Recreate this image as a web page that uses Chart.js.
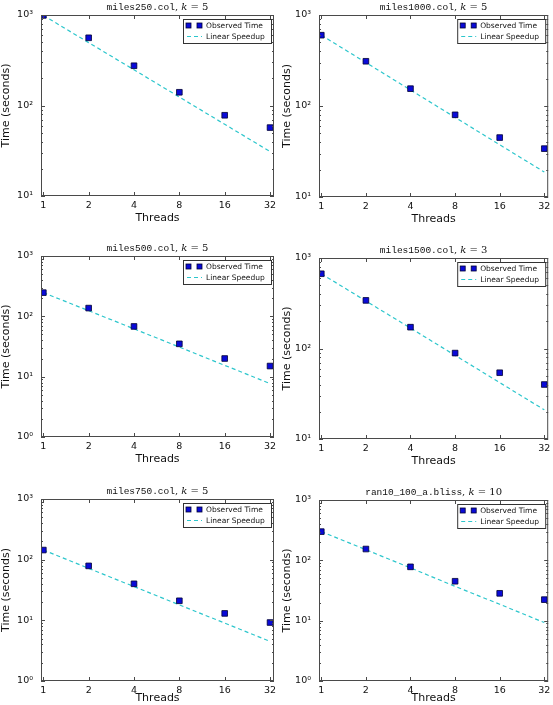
<!DOCTYPE html>
<html><head><meta charset="utf-8">
<script src="https://cdn.jsdelivr.net/npm/chart.js@4/dist/chart.umd.min.js"></script>
<style>
html,body{margin:0;padding:0;background:#fff;width:553px;height:705px;overflow:hidden}
#wrap{position:relative;width:553px;height:705px;background:#fff}
canvas{position:absolute;left:0;top:0}
</style></head><body><div id="wrap"></div>
<script>
// ---------- data ----------
const threads = [1, 2, 4, 8, 16, 32];
const xTickLabels = ['1', '2', '4', '8', '16', '32'];
const instanceNames = ['miles250.col', 'miles1000.col', 'miles500.col', 'miles1500.col', 'miles750.col', 'ran10_100_a.bliss'];
const kValues = [5, 5, 5, 3, 5, 10];
const seriesLabels = ['Observed Time', 'Linear Speedup'];
const xTitle = 'Threads';
const yTitle = 'Time (seconds)';

const observedMiles250  = [990, 560, 275, 140, 78, 57];
const observedMiles1000 = [600, 310, 155, 80, 45, 34];
const observedMiles500  = [247, 137, 68, 35, 20, 15];
const observedMiles1500 = [670, 340, 172, 89, 54, 40];
const observedMiles750  = [144, 79, 40, 21, 13, 9.2];
const observedRan10     = [299, 154, 78, 45, 28.4, 22.3];

const linearMiles250  = [990, 495, 248, 124, 62, 31];
const linearMiles1000 = [600, 300, 150, 75, 37.5, 18.8];
const linearMiles500  = [247, 124, 62, 31, 15.4, 7.7];
const linearMiles1500 = [670, 335, 168, 84, 42, 21];
const linearMiles750  = [144, 72, 36, 18, 9, 4.5];
const linearRan10     = [299, 150, 75, 37, 18.7, 9.3];

const yMinValues = [10, 10, 1, 10, 1, 1];
const yMaxValues = [1000, 1000, 1000, 1000, 1000, 1000];

const observedSeries = [observedMiles250, observedMiles1000, observedMiles500, observedMiles1500, observedMiles750, observedRan10];
const linearSeries = [linearMiles250, linearMiles1000, linearMiles500, linearMiles1500, linearMiles750, linearRan10];

// ---------- layout (plot rectangles in page pixels) ----------
const W = 553, H = 705;
const rects = [
  {l: 41, r: 274, t: 15, b: 196, col: 0},
  {l: 319, r: 551, t: 15, b: 197, col: 1},
  {l: 41, r: 274, t: 256, b: 437, col: 0},
  {l: 319, r: 551, t: 258, b: 439, col: 1},
  {l: 41, r: 274, t: 499, b: 681, col: 0},
  {l: 319, r: 551, t: 500, b: 681, col: 1}
];
const SUP = {0: '\u2070', 1: '\u00b9', 2: '\u00b2', 3: '\u00b3', 4: '\u2074'};
const CYAN = '#2cc6cc';
const FRAME = '#4a4a4a';

const decorPlugin = {
  id: 'panelDecor',
  afterDraw(chart, args, o) {
    const ctx = chart.ctx;
    const a = chart.chartArea;
    const xs = chart.scales.x, ys = chart.scales.y;
    ctx.save();
    // frame
    ctx.strokeStyle = FRAME; ctx.lineWidth = 1;
    ctx.strokeRect(a.left + 0.5, a.top + 0.5, a.right - a.left - 1, a.bottom - a.top - 1);
    // ticks
    ctx.beginPath();
    const lo = Math.round(Math.log10(ys.min)), hi = Math.round(Math.log10(ys.max));
    for (let d = lo; d <= hi; d++) {
      const yp = Math.round(ys.getPixelForValue(Math.pow(10, d))) + 0.5;
      ctx.moveTo(a.left, yp); ctx.lineTo(a.left + 4, yp);
      ctx.moveTo(a.right, yp); ctx.lineTo(a.right - 4, yp);
      if (d < hi) {
        for (let m = 2; m <= 9; m++) {
          const yy = Math.round(ys.getPixelForValue(m * Math.pow(10, d))) + 0.5;
          ctx.moveTo(a.left, yy); ctx.lineTo(a.left + 2, yy);
          ctx.moveTo(a.right, yy); ctx.lineTo(a.right - 2, yy);
        }
      }
    }
    threads.forEach(v => {
      const xp = Math.round(xs.getPixelForValue(v)) + 0.5;
      ctx.moveTo(xp, a.bottom); ctx.lineTo(xp, a.bottom - 4);
      ctx.moveTo(xp, a.top); ctx.lineTo(xp, a.top + 4);
    });
    ctx.stroke();
    // title
    const parts = [
      [o.name, '9.5px "Liberation Mono", monospace'],
      [', ', '10px "DejaVu Serif", serif'],
      ['k', 'italic 10px "DejaVu Serif", serif'],
      [' = ' + o.k, '10px "DejaVu Serif", serif']
    ];
    let tw = 0;
    parts.forEach(p => { ctx.font = p[1]; tw += ctx.measureText(p[0]).width; });
    let tx = (a.left + a.right) / 2 - tw / 2;
    const ty = a.top - 5.5;
    ctx.fillStyle = '#111'; ctx.textBaseline = 'alphabetic'; ctx.textAlign = 'left';
    parts.forEach(p => { ctx.font = p[1]; ctx.fillText(p[0], tx, ty); tx += ctx.measureText(p[0]).width; });
    // legend
    const bw = 88, bh = 24;
    const bx = a.right - 3 - bw, by = a.top + 4;
    ctx.fillStyle = '#fff';
    ctx.fillRect(bx, by, bw, bh);
    ctx.strokeStyle = '#333'; ctx.lineWidth = 1;
    ctx.strokeRect(bx + 0.5, by + 0.5, bw, bh);
    const r1 = by + 6.5, r2 = by + 17.5;
    const ds0 = chart.data.datasets[0], ds1 = chart.data.datasets[1];
    [bx + 5.5, bx + 16.5].forEach(mx => {
      ctx.fillStyle = ds0.pointBackgroundColor; ctx.strokeStyle = ds0.pointBorderColor; ctx.lineWidth = 0.8;
      ctx.fillRect(mx - 2.5, r1 - 2.5, 5, 5); ctx.strokeRect(mx - 2.5, r1 - 2.5, 5, 5);
    });
    ctx.strokeStyle = CYAN; ctx.lineWidth = 1.2; ctx.setLineDash([4, 3]);
    ctx.beginPath(); ctx.moveTo(bx + 4, r2); ctx.lineTo(bx + 19, r2); ctx.stroke();
    ctx.setLineDash([]);
    ctx.fillStyle = '#111'; ctx.font = '7.5px "DejaVu Sans", sans-serif'; ctx.textBaseline = 'middle';
    ctx.fillText(ds0.label, bx + 23, r1 + 0.5);
    ctx.fillText(ds1.label, bx + 23, r2 + 0.5);
    ctx.restore();
  }
};

const wrap = document.getElementById('wrap');
rects.forEach((rc, i) => {
  const cv = document.createElement('canvas');
  cv.width = W; cv.height = H;
  cv.style.width = W + 'px'; cv.style.height = H + 'px';
  wrap.appendChild(cv);
  const padLeft = rc.col === 0 ? 0 : 281;
  const yW = rc.l - padLeft;
  let xH = 29;
  let padBottom = H - (rc.b + xH);
  if (padBottom < 0) { padBottom = 0; xH = H - rc.b; }
  new Chart(cv, {
    type: 'line',
    data: {
      labels: threads,
      datasets: [
        {
          label: seriesLabels[0],
          data: threads.map((t, j) => ({x: t, y: observedSeries[i][j]})),
          showLine: false,
          pointStyle: 'rect',
          pointRadius: 4,
          pointBackgroundColor: '#0a0ad8',
          pointBorderColor: '#000033',
          pointBorderWidth: 0.8,
          clip: 0,
          order: 0
        },
        {
          label: seriesLabels[1],
          data: threads.map((t, j) => ({x: t, y: linearSeries[i][j]})),
          borderColor: CYAN,
          borderWidth: 1.2,
          borderDash: [4, 3],
          pointRadius: 0,
          tension: 0,
          fill: false,
          clip: 0,
          order: 1
        }
      ]
    },
    options: {
      responsive: false,
      animation: false,
      devicePixelRatio: 1,
      events: [],
      layout: {padding: {left: padLeft, right: W - rc.r, top: rc.t, bottom: padBottom}},
      plugins: {
        legend: {display: false},
        tooltip: {enabled: false},
        title: {display: false},
        panelDecor: {name: instanceNames[i], k: kValues[i]}
      },
      scales: {
        x: {
          type: 'logarithmic',
          min: 0.965, max: 34,
          grid: {display: false, drawTicks: false},
          border: {display: false},
          afterBuildTicks: s => { s.ticks = threads.map(v => ({value: v})); },
          afterFit: s => { s.height = xH; s.paddingLeft = 0; s.paddingRight = 0; },
          ticks: {
            autoSkip: false, maxRotation: 0, padding: 4,
            color: '#111', font: {family: '"DejaVu Sans", sans-serif', size: 9.5},
            callback: (v) => xTickLabels[threads.indexOf(v)]
          },
          title: {display: true, text: xTitle, color: '#111', padding: {top: 0, bottom: 0},
            font: {family: '"DejaVu Sans", sans-serif', size: 11}}
        },
        y: {
          type: 'logarithmic',
          min: yMinValues[i], max: yMaxValues[i],
          grid: {display: false, drawTicks: false},
          border: {display: false},
          afterBuildTicks: s => {
            const t = [];
            for (let d = Math.round(Math.log10(yMinValues[i])); d <= Math.round(Math.log10(yMaxValues[i])); d++) t.push({value: Math.pow(10, d)});
            s.ticks = t;
          },
          afterFit: s => { s.width = yW; s.paddingTop = 0; s.paddingBottom = 0; },
          ticks: {
            padding: 8, color: '#111',
            font: {family: '"DejaVu Sans", sans-serif', size: 9.5},
            callback: (v) => '10' + SUP[Math.round(Math.log10(v))]
          },
          title: {display: true, text: yTitle, color: '#111', padding: {top: 0, bottom: 0},
            font: {family: '"DejaVu Sans", sans-serif', size: 11}}
        }
      }
    },
    plugins: [decorPlugin]
  });
});
</script>
</body></html>
